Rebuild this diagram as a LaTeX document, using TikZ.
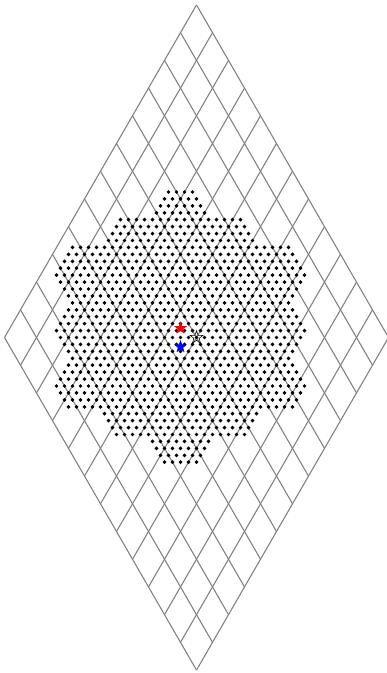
\documentclass[tikz,border=0pt]{standalone}
\usetikzlibrary{shapes.geometric}
\begin{document}
\begin{tikzpicture}[x=1cm,y=1cm,
  gridline/.style={draw=black!50, line width=0.95pt},
  dotmark/.style={fill=black},
  starmark/.style={star, star points=5, star point ratio=2.4, minimum size=0.42cm, inner sep=0pt}]
\useasboundingbox (-6.1406,-10.484) rectangle (5.9219,10.547);
% rhombus grid 12 x 12
\foreach \k in {0,...,12}{
  \draw[gridline] ({-0.5*\k},{10.3923-0.866025*\k}) -- ({-0.5*\k+6},{10.3923-0.866025*\k-10.3923});
  \draw[gridline] ({0.5*\k},{10.3923-0.866025*\k}) -- ({0.5*\k-6},{10.3923-0.866025*\k-10.3923});
}
% dots
\foreach \n in {-21,...,20}{
  \foreach \m in {-27,...,26}{
    \pgfmathtruncatemacro\q{mod(\n+400,4)}
    \pgfmathtruncatemacro\r{mod(\m+400,4)}
    \pgfmathtruncatemacro\i{(\m-\r)/4}
    \pgfmathtruncatemacro\j{(\n-\q)/4}
    \pgfmathtruncatemacro\s{2-((\r+\q)<3)}
    \pgfmathtruncatemacro\Cu{3*\i+\s}
    \pgfmathtruncatemacro\Cv{3*\j+\s}
    \pgfmathtruncatemacro\ok{(abs(2*\Cu+\Cv)<23)*(abs(\Cu+2*\Cv)<23)*(abs(\Cv-\Cu)<23)}
    \ifnum\ok=1
      \fill[dotmark] ({-0.5+((\m+2/3)+(\n+2/3)/2)/4},{0.288675+(\n+2/3)*0.216506}) circle (0.062);
    \fi
  }
}
% stars
\node[starmark, fill=red] (red) at (-0.5,0.288675) {};
\node[starmark, fill=blue] (blue) at (-0.5,-0.288675) {};
\node[starmark, draw=black, line width=0.5pt] (blk) at (0,0) {};
\end{tikzpicture}
\end{document}
